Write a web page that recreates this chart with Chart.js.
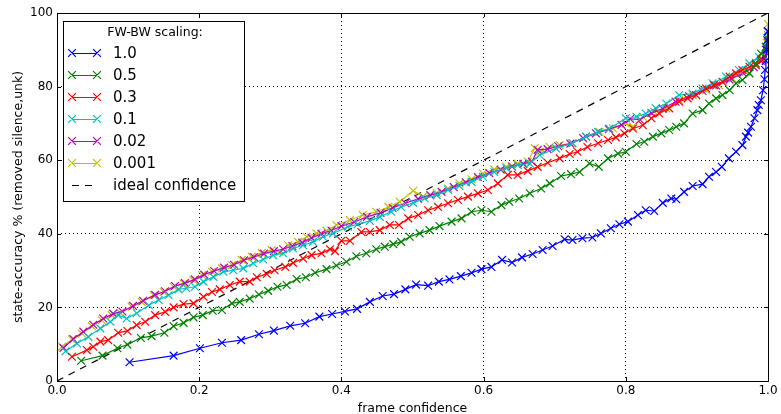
<!DOCTYPE html>
<html>
<head>
<meta charset="utf-8">
<script src="https://cdn.jsdelivr.net/npm/chart.js@4/dist/chart.umd.min.js"></script>
<style>
  html, body { margin: 0; padding: 0; background: #fff; }
  #wrap { width: 781px; height: 414px; }
</style>
</head>
<body>
<div id="wrap"><canvas id="c" width="781" height="414"></canvas></div>
<script>
// Frame confidence (x) and state accuracy in % (y) for each FW-BW scaling factor.
const conf_1_0 = [0.102,0.164,0.201,0.232,0.259,0.284,0.305,0.328,0.349,0.369,0.387,0.405,0.422,0.44,0.458,0.474,0.49,0.505,0.522,0.537,0.552,0.568,0.583,0.597,0.611,0.626,0.640,0.654,0.669,0.683,0.697,0.714,0.725,0.739,0.753,0.765,0.779,0.791,0.803,0.817,0.828,0.840,0.852,0.864,0.871,0.882,0.894,0.908,0.917,0.927,0.935,0.945,0.955,0.964,0.969,0.972,0.976,0.981,0.985,0.987,0.990,0.993,0.995,0.996,0.997,0.998,0.999,1.0];
const acc_1_0  = [5.1,6.9,8.9,10.4,11.1,12.7,13.7,15.0,15.7,17.5,18.2,18.9,19.6,21.5,23.1,23.6,24.9,26.2,25.9,27.0,27.6,28.5,29.4,30.4,31.0,32.9,32.2,33.6,34.5,35.6,36.7,38.5,38.3,38.8,39.0,40.1,41.5,42.6,43.3,45.1,46.4,46.2,48.4,49.6,49.4,51.4,53.0,53.5,55.5,56.8,58.2,60.5,62.3,64.1,66.4,67.5,69.1,71.4,73.6,75.0,76.3,79.0,82.0,84.5,87.0,90.0,92.6,95.0];

const conf_0_5 = [0.034,0.064,0.085,0.099,0.118,0.133,0.151,0.164,0.178,0.192,0.205,0.219,0.232,0.246,0.257,0.271,0.284,0.297,0.310,0.323,0.337,0.35,0.363,0.379,0.393,0.407,0.421,0.435,0.449,0.461,0.473,0.484,0.496,0.51,0.524,0.538,0.555,0.569,0.583,0.597,0.611,0.625,0.636,0.650,0.665,0.681,0.693,0.709,0.723,0.735,0.749,0.762,0.775,0.789,0.800,0.815,0.826,0.838,0.85,0.861,0.871,0.882,0.894,0.908,0.917,0.927,0.936,0.946,0.955,0.964,0.974,0.983,0.99,0.997,1.0];
const acc_0_5  = [5.5,6.9,8.9,9.9,11.7,12.2,13.1,14.9,15.8,17.3,17.9,19.1,19.3,21.1,21.5,22.4,23.5,24.5,25.6,26.1,27.7,28.2,29.4,30.4,31.4,32.4,33.9,34.7,35.8,36.5,37.2,37.8,39.2,40.1,41.0,42.1,43.3,44.2,46.0,46.4,46.0,47.8,48.7,49.6,51.0,52.3,53.7,55.7,56.2,56.8,59.1,58.2,60.5,61.8,62.3,64.4,65.0,66.4,67.3,68.2,69.1,70.0,72.7,73.6,75.4,76.8,77.7,79.0,80.9,81.8,83.6,86.3,89.0,90.8,93.0];

const conf_0_3 = [0.021,0.042,0.051,0.061,0.072,0.086,0.099,0.112,0.124,0.138,0.152,0.164,0.178,0.192,0.206,0.218,0.229,0.243,0.257,0.271,0.281,0.295,0.306,0.321,0.332,0.346,0.358,0.372,0.384,0.391,0.40,0.412,0.428,0.44,0.454,0.468,0.481,0.494,0.508,0.522,0.536,0.55,0.564,0.578,0.592,0.606,0.62,0.634,0.648,0.662,0.676,0.69,0.707,0.721,0.732,0.746,0.761,0.775,0.786,0.798,0.81,0.824,0.836,0.847,0.861,0.875,0.887,0.899,0.913,0.924,0.936,0.946,0.955,0.964,0.974,0.983,0.992,0.998,1.0];
const acc_0_3  = [6.6,8.4,9.3,10.7,11.1,13.1,13.6,15.2,16.1,17.9,18.8,20.0,20.9,21.1,22.9,24.2,24.9,26.1,27.0,27.0,28.2,29.1,30.1,31.0,32.1,33.3,34.2,34.7,35.8,35.3,38.1,38.1,40.5,40.5,41.0,42.4,42.4,44.2,45.1,46.4,47.3,48.3,49.2,50.1,51.0,51.9,53.7,56.0,56.0,57.1,58.2,59.3,60.5,61.7,62.3,63.6,64.6,65.5,66.2,67.3,68.6,69.5,71.4,72.7,74.1,75.9,76.8,77.7,79.5,80.4,81.3,82.7,83.6,84.5,85.4,85.8,87.2,89.0,92.0];

const conf_0_1 = [0.012,0.028,0.044,0.061,0.075,0.086,0.098,0.112,0.129,0.143,0.157,0.171,0.182,0.194,0.206,0.22,0.234,0.248,0.262,0.276,0.29,0.304,0.318,0.332,0.346,0.36,0.374,0.388,0.409,0.423,0.44,0.454,0.47,0.484,0.501,0.517,0.534,0.55,0.566,0.583,0.599,0.615,0.632,0.648,0.665,0.679,0.702,0.725,0.744,0.761,0.777,0.80,0.815,0.828,0.842,0.857,0.875,0.894,0.908,0.922,0.941,0.959,0.974,0.987,0.997,1.0];
const acc_0_1  = [8.1,10.2,12.0,14.3,16.1,17.9,17.0,18.4,20.6,22.0,23.3,24.9,25.2,25.6,27.0,28.3,29.7,30.1,30.6,32.0,33.0,34.2,34.7,36.0,36.9,37.8,39.2,40.1,41.9,42.6,43.5,44.6,46.0,47.3,48.4,49.6,50.5,51.9,53.0,54.1,55.5,56.8,57.8,58.7,59.1,61.4,63.2,64.6,66.4,67.7,68.6,71.4,71.8,72.7,74.1,75.4,77.7,78.1,79.5,80.9,82.7,84.5,86.3,88.1,90.8,94.0];

const conf_0_02 = [0.009,0.023,0.037,0.051,0.065,0.079,0.092,0.107,0.121,0.138,0.152,0.166,0.18,0.194,0.207,0.221,0.235,0.249,0.263,0.277,0.291,0.305,0.318,0.331,0.345,0.358,0.372,0.386,0.40,0.418,0.436,0.455,0.472,0.49,0.508,0.525,0.541,0.558,0.575,0.592,0.608,0.624,0.64,0.656,0.668,0.676,0.69,0.705,0.722,0.74,0.758,0.776,0.794,0.806,0.82,0.836,0.852,0.87,0.889,0.908,0.927,0.946,0.965,0.98,0.99,0.997,1.0];
const acc_0_02  = [9.0,11.4,13.4,15.3,17.0,18.3,18.9,20.4,21.8,23.4,24.4,25.8,26.6,27.6,28.9,29.9,30.8,31.6,32.8,33.7,34.6,35.3,35.8,36.7,37.6,38.9,40.0,40.9,42.1,43.2,44.6,45.7,47.0,48.3,49.5,50.5,51.4,52.7,54.0,55.4,56.5,57.4,58.3,59.0,59.6,62.8,63.0,63.8,64.5,66.0,67.3,68.4,69.6,71.2,71.0,72.8,74.0,75.9,77.4,78.8,80.3,81.9,83.7,85.3,87.0,90.0,95.0];

const conf_0_001 = [0.007,0.021,0.035,0.049,0.063,0.077,0.089,0.105,0.119,0.136,0.15,0.164,0.178,0.192,0.204,0.218,0.232,0.246,0.26,0.274,0.288,0.302,0.313,0.325,0.339,0.351,0.365,0.379,0.393,0.412,0.43,0.449,0.466,0.482,0.501,0.515,0.534,0.55,0.566,0.583,0.599,0.615,0.632,0.648,0.662,0.672,0.679,0.693,0.707,0.725,0.744,0.763,0.782,0.80,0.81,0.824,0.84,0.857,0.875,0.894,0.913,0.931,0.95,0.969,0.983,0.992,0.998,0.999,1.0];
const acc_0_001  = [9.3,11.3,12.9,14.9,16.5,17.9,18.5,20.2,21.5,23.3,24.2,25.6,26.5,27.4,28.8,29.7,30.6,31.5,32.9,33.8,34.8,35.6,35.1,36.9,37.8,39.2,40.1,40.8,42.4,43.7,45.1,46.0,47.3,48.7,51.7,50.1,51.1,52.3,53.7,54.8,56.4,57.5,58.2,59.1,59.6,63.3,62.3,63.6,64.1,64.6,66.4,67.7,68.6,70.0,69.1,71.8,73.2,74.1,76.3,77.7,79.0,80.4,82.2,84.0,85.8,87.6,92.0,95.0,97.0];

// Perfectly calibrated reference: accuracy equals confidence.
const idealConf = [0, 1];
const idealAcc  = [0, 100];

const scalingLabels = ['1.0', '0.5', '0.3', '0.1', '0.02', '0.001'];
const seriesColors  = ['#0000ff', '#008000', '#ff0000', '#00bfbf', '#bf00bf', '#bfbf00'];
const seriesX = [conf_1_0, conf_0_5, conf_0_3, conf_0_1, conf_0_02, conf_0_001];
const seriesY = [acc_1_0, acc_0_5, acc_0_3, acc_0_1, acc_0_02, acc_0_001];

const xTicks = [0, 0.2, 0.4, 0.6, 0.8, 1.0];
const yTicks = [0, 20, 40, 60, 80, 100];

const FONT = "'DejaVu Sans', 'Liberation Sans', sans-serif";

function toPoints(xs, ys) {
  return xs.map((x, i) => ({ x: x, y: ys[i] }));
}

const datasets = scalingLabels.map((lab, i) => ({
  label: lab,
  data: toPoints(seriesX[i], seriesY[i]),
  borderColor: seriesColors[i],
  backgroundColor: seriesColors[i],
  borderWidth: 1.2,
  pointStyle: 'crossRot',
  pointRadius: 5.5,
  pointBorderWidth: 1.2,
  pointBorderColor: seriesColors[i],
  pointHoverRadius: 5.5,
  tension: 0,
  fill: false
}));

datasets.push({
  label: 'ideal confidence',
  data: toPoints(idealConf, idealAcc),
  borderColor: '#000000',
  borderWidth: 1.2,
  borderDash: [7, 6],
  pointRadius: 0,
  fill: false
});

// Plot frame and inward tick marks on all four sides.
const framePlugin = {
  id: 'frame',
  beforeDatasetsDraw(chart) {
    const { ctx, chartArea: a, scales } = chart;
    ctx.save();
    ctx.strokeStyle = '#000';
    ctx.lineWidth = 1;
    ctx.beginPath();
    const L = 4;
    xTicks.forEach(v => {
      const px = Math.round(scales.x.getPixelForValue(v)) + 0.5;
      ctx.moveTo(px, a.bottom); ctx.lineTo(px, a.bottom - L);
      ctx.moveTo(px, a.top); ctx.lineTo(px, a.top + L);
    });
    yTicks.forEach(v => {
      const py = Math.round(scales.y.getPixelForValue(v)) + 0.5;
      ctx.moveTo(a.left, py); ctx.lineTo(a.left + L, py);
      ctx.moveTo(a.right, py); ctx.lineTo(a.right - L, py);
    });
    ctx.stroke();
    ctx.strokeRect(Math.round(a.left) + 0.5, Math.round(a.top) + 0.5,
                   Math.round(a.right - a.left), Math.round(a.bottom - a.top));
    ctx.restore();
  }
};

// Boxed legend in the upper-left corner of the plot.
const boxLegendPlugin = {
  id: 'boxLegend',
  afterDraw(chart) {
    const { ctx } = chart;
    const bx = 63.5, by = 21.5, bw = 181, bh = 180;
    ctx.save();
    ctx.fillStyle = '#fff';
    ctx.fillRect(bx, by, bw, bh);
    ctx.strokeStyle = '#000';
    ctx.lineWidth = 1;
    ctx.strokeRect(bx, by, bw, bh);

    ctx.fillStyle = '#000';
    ctx.font = '12.5px ' + FONT;
    ctx.textAlign = 'center';
    ctx.textBaseline = 'middle';
    ctx.fillText('FW-BW scaling:', 155, 33);

    ctx.font = '15px ' + FONT;
    ctx.textAlign = 'left';
    const x0 = 72, x1 = 97, tx = 113;
    const rows = scalingLabels.length + 1;
    for (let i = 0; i < rows; i++) {
      const y = 53 + i * 22;
      if (i < scalingLabels.length) {
        const col = seriesColors[i];
        ctx.strokeStyle = col;
        ctx.lineWidth = 1.2;
        ctx.setLineDash([]);
        ctx.beginPath();
        ctx.moveTo(x0, y + 0.5); ctx.lineTo(x1, y + 0.5);
        const r = 5.5 * Math.SQRT1_2;
        [x0, x1].forEach(cx => {
          ctx.moveTo(cx - r, y - r); ctx.lineTo(cx + r, y + r);
          ctx.moveTo(cx - r, y + r); ctx.lineTo(cx + r, y - r);
        });
        ctx.stroke();
        ctx.fillStyle = '#000';
        ctx.fillText(scalingLabels[i], tx, y + 1);
      } else {
        ctx.strokeStyle = '#000';
        ctx.lineWidth = 1.2;
        ctx.setLineDash([7, 6]);
        ctx.beginPath();
        ctx.moveTo(x0, y + 0.5); ctx.lineTo(x1, y + 0.5);
        ctx.stroke();
        ctx.setLineDash([]);
        ctx.fillStyle = '#000';
        ctx.fillText('ideal confidence', tx, y + 1);
      }
    }
    ctx.restore();
  }
};

new Chart(document.getElementById('c'), {
  type: 'line',
  data: { datasets: datasets },
  options: {
    responsive: false,
    animation: false,
    events: [],
    layout: { padding: { top: 13, right: 13, left: 0, bottom: 0 } },
    plugins: {
      legend: { display: false },
      tooltip: { enabled: false }
    },
    scales: {
      x: {
        type: 'linear',
        min: 0, max: 1,
        afterFit(s) { s.height = 33; },
        afterBuildTicks(s) { s.ticks = xTicks.map(v => ({ value: v })); },
        ticks: {
          color: '#000',
          font: { family: FONT, size: 12 },
          padding: 3,
          maxRotation: 0,
          callback: v => Number(v).toFixed(1)
        },
        grid: {
          color: '#000',
          lineWidth: 1,
          drawTicks: false
        },
        border: { display: false, dash: [1, 3] },
        title: {
          display: true,
          text: 'frame confidence',
          color: '#000',
          font: { family: FONT, size: 12.5 },
          padding: { top: 0, bottom: -2 }
        }
      },
      y: {
        type: 'linear',
        min: 0, max: 100,
        afterFit(s) { s.width = 57; },
        afterBuildTicks(s) { s.ticks = yTicks.map(v => ({ value: v })); },
        ticks: {
          color: '#000',
          font: { family: FONT, size: 12 },
          padding: 4,
          callback: v => String(v)
        },
        grid: {
          color: '#000',
          lineWidth: 1,
          drawTicks: false
        },
        border: { display: false, dash: [1, 3] },
        title: {
          display: true,
          text: 'state-accuracy % (removed silence,unk)',
          color: '#000',
          font: { family: FONT, size: 12.5 },
          padding: { top: 11, bottom: 0 }
        }
      }
    }
  },
  plugins: [framePlugin, boxLegendPlugin]
});
</script>
</body>
</html>
